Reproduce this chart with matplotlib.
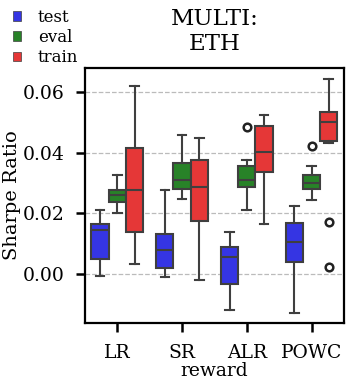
import matplotlib
matplotlib.use('Agg')

import matplotlib.pyplot as plt
from matplotlib.patches import Patch

rewards = ['LR', 'SR', 'ALR', 'POWC']
splits = ['test', 'eval', 'train']
colors = ['#3535e3', '#288228', '#e53737']

# box stats per split, one value per reward
whislo = {
    'test': [-0.0006, -0.0012, -0.0118, -0.0129],
    'eval': [0.0199, 0.0248, 0.0211, 0.0242],
    'train': [0.0031, -0.0019, 0.0166, 0.0430],
}
q1 = {
    'test': [0.0049, 0.0020, -0.0033, 0.0040],
    'eval': [0.0238, 0.0281, 0.0285, 0.0280],
    'train': [0.0139, 0.0175, 0.0337, 0.0439],
}
med = {
    'test': [0.0146, 0.0077, 0.0057, 0.0106],
    'eval': [0.0259, 0.0311, 0.0311, 0.0298],
    'train': [0.0278, 0.0288, 0.0403, 0.0500],
}
q3 = {
    'test': [0.0166, 0.0130, 0.0090, 0.0168],
    'eval': [0.0278, 0.0366, 0.0356, 0.0326],
    'train': [0.0415, 0.0374, 0.0488, 0.0534],
}
whishi = {
    'test': [0.0211, 0.0278, 0.0139, 0.0225],
    'eval': [0.0326, 0.0459, 0.0377, 0.0356],
    'train': [0.0621, 0.0449, 0.0525, 0.0643],
}
fliers = {
    'test': [[], [], [], []],
    'eval': [[], [], [0.0484], [0.0421]],
    'train': [[], [], [], [0.0171, 0.0022]],
}

plt.rcParams['font.family'] = 'DejaVu Serif'

fig = plt.figure(figsize=(3.47, 3.84), dpi=100)
ax = fig.add_axes([0.245, 0.159, 0.746, 0.664])

width = 0.8 / len(splits)
edge = '#3f3f3f'
for j, s in enumerate(splits):
    stats = []
    for i in range(len(rewards)):
        stats.append(dict(whislo=whislo[s][i], q1=q1[s][i], med=med[s][i],
                          q3=q3[s][i], whishi=whishi[s][i], fliers=fliers[s][i]))
    pos = [i + (j - 1) * width for i in range(len(rewards))]
    ax.bxp(stats, positions=pos, widths=width, patch_artist=True,
           showfliers=True, manage_ticks=False,
           boxprops=dict(facecolor=colors[j], edgecolor=edge, linewidth=1.5),
           medianprops=dict(color=edge, linewidth=1.5),
           whiskerprops=dict(color=edge, linewidth=1.5),
           capprops=dict(color=edge, linewidth=1.5),
           flierprops=dict(marker='o', markerfacecolor='none',
                           markeredgecolor='#222222', markersize=5.5,
                           markeredgewidth=1.8),
           zorder=3)

ax.set_xlim(-0.5, 3.5)
ax.set_ylim(-0.0162, 0.0679)
ax.set_xticks(range(len(rewards)))
ax.set_xticklabels(rewards)
ax.set_yticks([0.0, 0.02, 0.04, 0.06])
ax.set_yticklabels(['0.00', '0.02', '0.04', '0.06'])
ax.yaxis.grid(True, linestyle='--', color='#bbbbbb', linewidth=0.9, zorder=0)
ax.set_axisbelow(True)
ax.tick_params(labelsize=13.5, width=1.8, length=6.5, pad=8.5)
for sp in ax.spines.values():
    sp.set_linewidth(1.6)

ax.set_ylabel('Sharpe Ratio', fontsize=14, labelpad=1)
ax.set_xlabel('reward', fontsize=13.5, labelpad=0)
ax.set_title('MULTI:\nETH', fontsize=16.5, pad=13)

handles = [Patch(facecolor=c, edgecolor='#3f3f3f', linewidth=0.5) for c in colors]
fig.legend(handles, splits, loc='upper left', bbox_to_anchor=(0.037, 0.977),
           frameon=False, fontsize=12, handlelength=0.5, handleheight=0.5,
           handletextpad=1.0, labelspacing=0.2, borderaxespad=0.0,
           borderpad=0.0)

fig.savefig('out.png', dpi=100)
